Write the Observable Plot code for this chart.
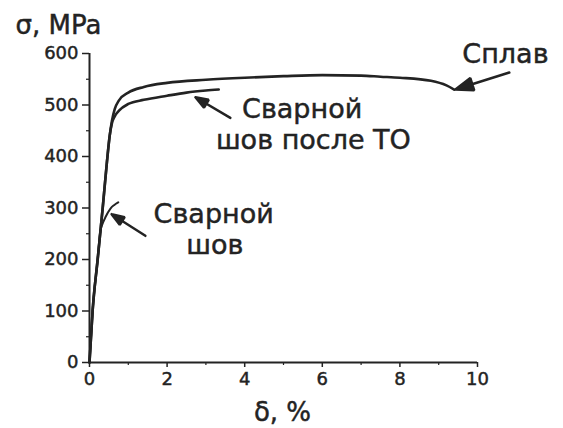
<!DOCTYPE html>
<html><head><meta charset="utf-8">
<script src="https://cdn.jsdelivr.net/npm/d3@7"></script>
<script src="https://cdn.jsdelivr.net/npm/@observablehq/plot@0.6"></script>
<style>body{margin:0;background:#fff} svg text{stroke:#232323;stroke-width:0.45px}</style>
</head><body><div id="chart"></div>
<script>
// Сплав (alloy)
const alloyX = [0, 0.08, 0.21, 0.34, 0.45, 0.52, 0.58, 0.65, 0.76, 1.0, 1.4, 2.0, 3.0, 4.0, 5.0, 6.0, 7.0, 7.5, 8.0, 8.8, 9.2, 9.4];
const alloyY = [0, 100, 200, 300, 390, 440, 470, 492, 509, 524, 535, 543, 549, 553, 556, 558, 557, 555, 553, 547, 538, 530];
// Сварной шов после ТО (weld after heat treatment)
const heatX = [0, 0.08, 0.21, 0.34, 0.45, 0.52, 0.58, 0.65, 0.76, 1.0, 1.4, 2.0, 2.5, 3.0, 3.33];
const heatY = [0, 100, 200, 300, 390, 440, 465, 478, 489, 502, 510, 518, 524, 528, 530];
// Сварной шов (weld)
const weldX = [0, 0.08, 0.21, 0.28, 0.34, 0.41, 0.54, 0.64, 0.74];
const weldY = [0, 100, 200, 255, 270, 282, 299, 306, 311];

const xTicks = [0, 2, 4, 6, 8, 10];
const xMinor = [1, 3, 5, 7, 9];
const yTicks = [0, 100, 200, 300, 400, 500, 600];
const yMinor = [50, 150, 250, 350, 450, 550];

// annotation labels
const labelText = ["Сплав", "Сварной", "шов после ТО", "Сварной", "шов"];
const labelX = [10.72, 5.48, 5.77, 3.2, 3.23];
const labelY = [582, 475, 415, 270, 211];
// annotation arrows (tail -> head)
const arrowX1 = [10.82, 3.63, 1.44];
const arrowY1 = [563, 475, 246];
const arrowX2 = [9.43, 2.73, 0.57];
const arrowY2 = [530, 515, 288];

const toRows = (xs, ys) => xs.map((x, i) => ({x, y: ys[i]}));
const labels = labelText.map((t, i) => ({t, x: labelX[i], y: labelY[i]}));
const arrows = arrowX1.map((x1, i) => ({x1, y1: arrowY1[i], x2: arrowX2[i], y2: arrowY2[i]}));
const ink = "#232323";

const chart = Plot.plot({
  width: 563, height: 428,
  marginLeft: 89, marginRight: 86, marginTop: 53, marginBottom: 66,
  style: {fontFamily: "DejaVu Sans", color: ink, background: "#fff"},
  x: {domain: [0, 10]},
  y: {domain: [0, 600]},
  marks: [
    Plot.axisX({ticks: xTicks, tickSize: 5, tickPadding: 5, fontSize: 18, label: null, strokeWidth: 1.5}),
    Plot.axisX({ticks: xMinor, tickSize: 3, tickFormat: () => "", label: null, strokeWidth: 1.2}),
    Plot.axisY({ticks: yTicks, tickSize: 7, tickPadding: 4, fontSize: 18, label: null, strokeWidth: 1.5}),
    Plot.axisY({ticks: yMinor, tickSize: 3, tickFormat: () => "", label: null, strokeWidth: 1.2}),
    Plot.ruleY([0], {x1: 0, x2: 10, stroke: ink, strokeWidth: 2}),
    Plot.ruleX([0], {y1: 0, y2: 600, stroke: ink, strokeWidth: 2}),
    Plot.line(toRows(alloyX, alloyY), {x: "x", y: "y", stroke: ink, strokeWidth: 2.6, curve: "monotone-x"}),
    Plot.line(toRows(heatX, heatY), {x: "x", y: "y", stroke: ink, strokeWidth: 2.6, curve: "monotone-x"}),
    Plot.line(toRows(weldX, weldY), {x: "x", y: "y", stroke: ink, strokeWidth: 2, curve: "monotone-x"}),
    Plot.arrow(arrows, {x1: "x1", y1: "y1", x2: "x2", y2: "y2", stroke: ink, strokeWidth: 2.5, headLength: 13, headAngle: 40, className: "annot-arrow"}),
    Plot.text(labels, {x: "x", y: "y", text: "t", fontSize: 27, textAnchor: "middle", lineAnchor: "bottom", fill: ink}),
    Plot.text(["σ, MPa"], {frameAnchor: "top-left", dx: -74, dy: -20, textAnchor: "start", lineAnchor: "bottom", fontSize: 26, fill: ink}),
    Plot.text(["δ, %"], {frameAnchor: "bottom", dx: -1, dy: 58, textAnchor: "middle", lineAnchor: "bottom", fontSize: 26, fill: ink})
  ]
});
// fill the arrowheads (close the head subpath)
chart.querySelectorAll("g[aria-label='arrow'] path").forEach(p => {
  p.setAttribute("d", p.getAttribute("d") + "Z");
  p.setAttribute("fill", ink);
  p.setAttribute("stroke-linejoin", "miter");
});
document.getElementById("chart").appendChild(chart);
</script>
</body></html>
